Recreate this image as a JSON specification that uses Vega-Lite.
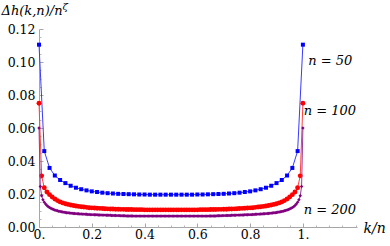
{
  "$schema": "https://vega.github.io/schema/vega-lite/v6.json",
  "width": 318,
  "height": 198,
  "autosize": "none",
  "padding": {"left": 39, "top": 29, "right": 33, "bottom": 19},
  "background": "white",
  "config": {"view": {"stroke": null}, "axis": {"grid": false, "labelFont": "DejaVu Serif", "titleFont": "DejaVu Serif"}},
  "datasets": {
    "b": [
      {"x":0,"y":0.1105},{"x":0.02,"y":0.046},{"x":0.04,"y":0.0358},{"x":0.06,"y":0.0312},{"x":0.08,"y":0.0285},{"x":0.1,"y":0.0266},{"x":0.12,"y":0.025},{"x":0.14,"y":0.0238},{"x":0.16,"y":0.0229},{"x":0.18,"y":0.0222},{"x":0.2,"y":0.0216},{"x":0.22,"y":0.0212},{"x":0.24,"y":0.0208},{"x":0.26,"y":0.0205},{"x":0.28,"y":0.0203},{"x":0.3,"y":0.0201},{"x":0.32,"y":0.02},{"x":0.34,"y":0.0199},{"x":0.36,"y":0.0198},{"x":0.38,"y":0.0197},{"x":0.4,"y":0.0197},{"x":0.42,"y":0.0196},{"x":0.44,"y":0.0196},{"x":0.46,"y":0.0196},{"x":0.48,"y":0.0196},{"x":0.5,"y":0.0196},{"x":0.52,"y":0.0196},{"x":0.54,"y":0.0196},{"x":0.56,"y":0.0196},{"x":0.58,"y":0.0196},{"x":0.6,"y":0.0197},{"x":0.62,"y":0.0197},{"x":0.64,"y":0.0198},{"x":0.66,"y":0.0199},{"x":0.68,"y":0.02},{"x":0.7,"y":0.0201},{"x":0.72,"y":0.0203},{"x":0.74,"y":0.0205},{"x":0.76,"y":0.0208},{"x":0.78,"y":0.0212},{"x":0.8,"y":0.0216},{"x":0.82,"y":0.0222},{"x":0.84,"y":0.0229},{"x":0.86,"y":0.0238},{"x":0.88,"y":0.025},{"x":0.9,"y":0.0266},{"x":0.92,"y":0.0285},{"x":0.94,"y":0.0312},{"x":0.96,"y":0.0358},{"x":0.98,"y":0.046},{"x":1,"y":0.1105}
    ],
    "r": [
      {"x":0,"y":0.075},{"x":0.01,"y":0.031},{"x":0.02,"y":0.0238},{"x":0.03,"y":0.0212},{"x":0.04,"y":0.0196},{"x":0.05,"y":0.0182},{"x":0.06,"y":0.017},{"x":0.07,"y":0.016},{"x":0.08,"y":0.0152},{"x":0.09,"y":0.0146},{"x":0.1,"y":0.0141},{"x":0.11,"y":0.0137},{"x":0.12,"y":0.0133},{"x":0.13,"y":0.013},{"x":0.14,"y":0.0127},{"x":0.15,"y":0.0125},{"x":0.16,"y":0.0123},{"x":0.17,"y":0.0121},{"x":0.18,"y":0.0119},{"x":0.19,"y":0.0117},{"x":0.2,"y":0.0116},{"x":0.21,"y":0.0115},{"x":0.22,"y":0.0114},{"x":0.23,"y":0.0113},{"x":0.24,"y":0.0112},{"x":0.25,"y":0.0111},{"x":0.26,"y":0.011},{"x":0.27,"y":0.0109},{"x":0.28,"y":0.0109},{"x":0.29,"y":0.0108},{"x":0.3,"y":0.0108},{"x":0.31,"y":0.0107},{"x":0.32,"y":0.0107},{"x":0.33,"y":0.0106},{"x":0.34,"y":0.0106},{"x":0.35,"y":0.0106},{"x":0.36,"y":0.0105},{"x":0.37,"y":0.0105},{"x":0.38,"y":0.0105},{"x":0.39,"y":0.0105},{"x":0.4,"y":0.0104},{"x":0.41,"y":0.0104},{"x":0.42,"y":0.0104},{"x":0.43,"y":0.0104},{"x":0.44,"y":0.0104},{"x":0.45,"y":0.0104},{"x":0.46,"y":0.0104},{"x":0.47,"y":0.0104},{"x":0.48,"y":0.0104},{"x":0.49,"y":0.0104},{"x":0.5,"y":0.0104},{"x":0.51,"y":0.0104},{"x":0.52,"y":0.0104},{"x":0.53,"y":0.0104},{"x":0.54,"y":0.0104},{"x":0.55,"y":0.0104},{"x":0.56,"y":0.0104},{"x":0.57,"y":0.0104},{"x":0.58,"y":0.0104},{"x":0.59,"y":0.0104},{"x":0.6,"y":0.0104},{"x":0.61,"y":0.0105},{"x":0.62,"y":0.0105},{"x":0.63,"y":0.0105},{"x":0.64,"y":0.0105},{"x":0.65,"y":0.0106},{"x":0.66,"y":0.0106},{"x":0.67,"y":0.0106},{"x":0.68,"y":0.0107},{"x":0.69,"y":0.0107},{"x":0.7,"y":0.0108},{"x":0.71,"y":0.0108},{"x":0.72,"y":0.0109},{"x":0.73,"y":0.0109},{"x":0.74,"y":0.011},{"x":0.75,"y":0.0111},{"x":0.76,"y":0.0112},{"x":0.77,"y":0.0113},{"x":0.78,"y":0.0114},{"x":0.79,"y":0.0115},{"x":0.8,"y":0.0116},{"x":0.81,"y":0.0117},{"x":0.82,"y":0.0119},{"x":0.83,"y":0.0121},{"x":0.84,"y":0.0123},{"x":0.85,"y":0.0125},{"x":0.86,"y":0.0127},{"x":0.87,"y":0.013},{"x":0.88,"y":0.0133},{"x":0.89,"y":0.0137},{"x":0.9,"y":0.0141},{"x":0.91,"y":0.0146},{"x":0.92,"y":0.0152},{"x":0.93,"y":0.016},{"x":0.94,"y":0.017},{"x":0.95,"y":0.0182},{"x":0.96,"y":0.0196},{"x":0.97,"y":0.0212},{"x":0.98,"y":0.0238},{"x":0.99,"y":0.031},{"x":1,"y":0.075}
    ],
    "p": [
      {"x":0,"y":0.06},{"x":0.005,"y":0.0245},{"x":0.01,"y":0.019},{"x":0.015,"y":0.0165},{"x":0.02,"y":0.015},{"x":0.025,"y":0.0139},{"x":0.03,"y":0.013},{"x":0.035,"y":0.0123},{"x":0.04,"y":0.0118},{"x":0.045,"y":0.0113},{"x":0.05,"y":0.0109},{"x":0.055,"y":0.0106},{"x":0.06,"y":0.0103},{"x":0.065,"y":0.01},{"x":0.07,"y":0.0098},{"x":0.075,"y":0.0096},{"x":0.08,"y":0.0094},{"x":0.085,"y":0.0092},{"x":0.09,"y":0.0091},{"x":0.095,"y":0.0089},{"x":0.1,"y":0.0088},{"x":0.105,"y":0.0087},{"x":0.11,"y":0.0086},{"x":0.115,"y":0.0085},{"x":0.12,"y":0.0084},{"x":0.125,"y":0.0083},{"x":0.13,"y":0.0082},{"x":0.135,"y":0.0082},{"x":0.14,"y":0.0081},{"x":0.145,"y":0.008},{"x":0.15,"y":0.008},{"x":0.155,"y":0.0079},{"x":0.16,"y":0.0079},{"x":0.165,"y":0.0078},{"x":0.17,"y":0.0078},{"x":0.175,"y":0.0077},{"x":0.18,"y":0.0077},{"x":0.185,"y":0.0076},{"x":0.19,"y":0.0076},{"x":0.195,"y":0.0075},{"x":0.2,"y":0.0075},{"x":0.205,"y":0.0075},{"x":0.21,"y":0.0074},{"x":0.215,"y":0.0074},{"x":0.22,"y":0.0074},{"x":0.225,"y":0.0073},{"x":0.23,"y":0.0073},{"x":0.235,"y":0.0073},{"x":0.24,"y":0.0072},{"x":0.245,"y":0.0072},{"x":0.25,"y":0.0072},{"x":0.255,"y":0.0071},{"x":0.26,"y":0.0071},{"x":0.265,"y":0.0071},{"x":0.27,"y":0.0071},{"x":0.275,"y":0.007},{"x":0.28,"y":0.007},{"x":0.285,"y":0.007},{"x":0.29,"y":0.007},{"x":0.295,"y":0.0069},{"x":0.3,"y":0.0069},{"x":0.305,"y":0.0069},{"x":0.31,"y":0.0068},{"x":0.315,"y":0.0068},{"x":0.32,"y":0.0068},{"x":0.325,"y":0.0068},{"x":0.33,"y":0.0067},{"x":0.335,"y":0.0067},{"x":0.34,"y":0.0067},{"x":0.345,"y":0.0067},{"x":0.35,"y":0.0067},{"x":0.355,"y":0.0067},{"x":0.36,"y":0.0066},{"x":0.365,"y":0.0066},{"x":0.37,"y":0.0066},{"x":0.375,"y":0.0066},{"x":0.38,"y":0.0066},{"x":0.385,"y":0.0066},{"x":0.39,"y":0.0066},{"x":0.395,"y":0.0066},{"x":0.4,"y":0.0066},{"x":0.405,"y":0.0066},{"x":0.41,"y":0.0066},{"x":0.415,"y":0.0066},{"x":0.42,"y":0.0066},{"x":0.425,"y":0.0066},{"x":0.43,"y":0.0066},{"x":0.435,"y":0.0066},{"x":0.44,"y":0.0066},{"x":0.445,"y":0.0066},{"x":0.45,"y":0.0066},{"x":0.455,"y":0.0066},{"x":0.46,"y":0.0066},{"x":0.465,"y":0.0066},{"x":0.47,"y":0.0066},{"x":0.475,"y":0.0066},{"x":0.48,"y":0.0066},{"x":0.485,"y":0.0066},{"x":0.49,"y":0.0066},{"x":0.495,"y":0.0066},{"x":0.5,"y":0.0066},{"x":0.505,"y":0.0066},{"x":0.51,"y":0.0066},{"x":0.515,"y":0.0066},{"x":0.52,"y":0.0066},{"x":0.525,"y":0.0066},{"x":0.53,"y":0.0066},{"x":0.535,"y":0.0066},{"x":0.54,"y":0.0066},{"x":0.545,"y":0.0066},{"x":0.55,"y":0.0066},{"x":0.555,"y":0.0066},{"x":0.56,"y":0.0066},{"x":0.565,"y":0.0066},{"x":0.57,"y":0.0066},{"x":0.575,"y":0.0066},{"x":0.58,"y":0.0066},{"x":0.585,"y":0.0066},{"x":0.59,"y":0.0066},{"x":0.595,"y":0.0066},{"x":0.6,"y":0.0066},{"x":0.605,"y":0.0066},{"x":0.61,"y":0.0066},{"x":0.615,"y":0.0066},{"x":0.62,"y":0.0066},{"x":0.625,"y":0.0066},{"x":0.63,"y":0.0066},{"x":0.635,"y":0.0066},{"x":0.64,"y":0.0066},{"x":0.645,"y":0.0067},{"x":0.65,"y":0.0067},{"x":0.655,"y":0.0067},{"x":0.66,"y":0.0067},{"x":0.665,"y":0.0067},{"x":0.67,"y":0.0067},{"x":0.675,"y":0.0068},{"x":0.68,"y":0.0068},{"x":0.685,"y":0.0068},{"x":0.69,"y":0.0068},{"x":0.695,"y":0.0069},{"x":0.7,"y":0.0069},{"x":0.705,"y":0.0069},{"x":0.71,"y":0.007},{"x":0.715,"y":0.007},{"x":0.72,"y":0.007},{"x":0.725,"y":0.007},{"x":0.73,"y":0.0071},{"x":0.735,"y":0.0071},{"x":0.74,"y":0.0071},{"x":0.745,"y":0.0071},{"x":0.75,"y":0.0072},{"x":0.755,"y":0.0072},{"x":0.76,"y":0.0072},{"x":0.765,"y":0.0073},{"x":0.77,"y":0.0073},{"x":0.775,"y":0.0073},{"x":0.78,"y":0.0074},{"x":0.785,"y":0.0074},{"x":0.79,"y":0.0074},{"x":0.795,"y":0.0075},{"x":0.8,"y":0.0075},{"x":0.805,"y":0.0075},{"x":0.81,"y":0.0076},{"x":0.815,"y":0.0076},{"x":0.82,"y":0.0077},{"x":0.825,"y":0.0077},{"x":0.83,"y":0.0078},{"x":0.835,"y":0.0078},{"x":0.84,"y":0.0079},{"x":0.845,"y":0.0079},{"x":0.85,"y":0.008},{"x":0.855,"y":0.008},{"x":0.86,"y":0.0081},{"x":0.865,"y":0.0082},{"x":0.87,"y":0.0082},{"x":0.875,"y":0.0083},{"x":0.88,"y":0.0084},{"x":0.885,"y":0.0085},{"x":0.89,"y":0.0086},{"x":0.895,"y":0.0087},{"x":0.9,"y":0.0088},{"x":0.905,"y":0.0089},{"x":0.91,"y":0.0091},{"x":0.915,"y":0.0092},{"x":0.92,"y":0.0094},{"x":0.925,"y":0.0096},{"x":0.93,"y":0.0098},{"x":0.935,"y":0.01},{"x":0.94,"y":0.0103},{"x":0.945,"y":0.0106},{"x":0.95,"y":0.0109},{"x":0.955,"y":0.0113},{"x":0.96,"y":0.0118},{"x":0.965,"y":0.0123},{"x":0.97,"y":0.013},{"x":0.975,"y":0.0139},{"x":0.98,"y":0.015},{"x":0.985,"y":0.0165},{"x":0.99,"y":0.019},{"x":0.995,"y":0.0245},{"x":1,"y":0.06}
    ],
    "labels": [
      {"x":1.104,"y":0.1006,"label":"n = 50"},
      {"x":1.102,"y":0.0706,"label":"n = 100"},
      {"x":1.102,"y":0.0103,"label":"n = 200"}
    ]
  },
  "resolve": {"axis": {"x": "independent", "y": "independent"}},
  "layer": [
    {
      "data": {"name": "b"},
      "mark": {"type": "line", "color": "#3a3aff", "strokeWidth": 1},
      "encoding": {
        "x": {"field": "x", "type": "quantitative", "scale": {"domain": [0, 1.205], "nice": false, "zero": false},
          "axis": {"orient": "bottom", "values": [0, 0.2, 0.4, 0.6, 0.8, 1], "labelExpr": "datum.value == 0 ? '0.' : datum.value == 1 ? '1.' : format(datum.value, '.1f')", "labelFlush": false, "labelOverlap": false, "labelFontSize": 12.5, "labelColor": "#000000", "domainColor": "#a6a6a6", "tickColor": "#a6a6a6", "tickSize": -4, "labelPadding": 5, "title": "k/n", "titleX": 324, "titleY": 1, "titleAlign": "left", "titleBaseline": "middle", "titleFontSize": 14, "titleFontStyle": "italic", "titleFontWeight": "normal", "titleColor": "#000000"}},
        "y": {"field": "y", "type": "quantitative", "scale": {"domain": [0, 0.12], "nice": false, "zero": false},
          "axis": {"orient": "left", "values": [0, 0.02, 0.04, 0.06, 0.08, 0.1, 0.12], "format": ".2f", "labelOverlap": false, "labelFontSize": 12.5, "labelColor": "#000000", "domainColor": "#a6a6a6", "tickColor": "#a6a6a6", "tickSize": -4, "labelPadding": 8, "title": "Δh(k,n)/n", "titleAngle": 0, "titleX": -38, "titleY": -19, "titleAlign": "left", "titleBaseline": "middle", "titleFontSize": 13, "titleFontStyle": "italic", "titleFontWeight": "normal", "titleColor": "#000000"}}
      }
    },
    {
      "data": {"name": "b"},
      "mark": {"type": "point", "opacity": 0},
      "encoding": {
        "x": {"field": "x", "type": "quantitative", "scale": {"domain": [0, 1.205], "nice": false, "zero": false},
          "axis": {"orient": "bottom", "values": [0.05, 0.1, 0.15, 0.25, 0.3, 0.35, 0.45, 0.5, 0.55, 0.65, 0.7, 0.75, 0.85, 0.9, 0.95, 1.05, 1.1, 1.15, 1.2], "labels": false, "domain": false, "tickColor": "#b5b5b5", "tickSize": -2, "title": null}},
        "y": {"field": "y", "type": "quantitative", "scale": {"domain": [0, 0.12], "nice": false, "zero": false},
          "axis": {"orient": "left", "values": [0.005, 0.01, 0.015, 0.025, 0.03, 0.035, 0.045, 0.05, 0.055, 0.065, 0.07, 0.075, 0.085, 0.09, 0.095, 0.105, 0.11, 0.115], "labels": false, "domain": false, "tickColor": "#b5b5b5", "tickSize": -2, "title": "ζ", "titleAngle": 0, "titleX": 23, "titleY": -23, "titleAlign": "left", "titleBaseline": "middle", "titleFontSize": 10, "titleFontStyle": "italic", "titleFontWeight": "normal", "titleColor": "#000000"}}
      }
    },
    {
      "data": {"name": "b"},
      "mark": {"type": "point", "shape": "square", "filled": true, "size": 16, "color": "#0000ff", "opacity": 1},
      "encoding": {
        "x": {"field": "x", "type": "quantitative", "scale": {"domain": [0, 1.205], "nice": false, "zero": false}, "axis": null},
        "y": {"field": "y", "type": "quantitative", "scale": {"domain": [0, 0.12], "nice": false, "zero": false}, "axis": null}
      }
    },
    {
      "data": {"name": "r"},
      "mark": {"type": "line", "color": "#ff4040", "strokeWidth": 1},
      "encoding": {
        "x": {"field": "x", "type": "quantitative", "scale": {"domain": [0, 1.205], "nice": false, "zero": false}, "axis": null},
        "y": {"field": "y", "type": "quantitative", "scale": {"domain": [0, 0.12], "nice": false, "zero": false}, "axis": null}
      }
    },
    {
      "data": {"name": "r"},
      "mark": {"type": "point", "shape": "circle", "filled": true, "size": 24, "color": "#ff0000", "opacity": 1},
      "encoding": {
        "x": {"field": "x", "type": "quantitative", "scale": {"domain": [0, 1.205], "nice": false, "zero": false}, "axis": null},
        "y": {"field": "y", "type": "quantitative", "scale": {"domain": [0, 0.12], "nice": false, "zero": false}, "axis": null}
      }
    },
    {
      "data": {"name": "p"},
      "mark": {"type": "line", "color": "#9a3a9a", "strokeWidth": 1},
      "encoding": {
        "x": {"field": "x", "type": "quantitative", "scale": {"domain": [0, 1.205], "nice": false, "zero": false}, "axis": null},
        "y": {"field": "y", "type": "quantitative", "scale": {"domain": [0, 0.12], "nice": false, "zero": false}, "axis": null}
      }
    },
    {
      "data": {"name": "p"},
      "mark": {"type": "point", "shape": "diamond", "filled": true, "size": 12, "color": "#800080", "opacity": 1},
      "encoding": {
        "x": {"field": "x", "type": "quantitative", "scale": {"domain": [0, 1.205], "nice": false, "zero": false}, "axis": null},
        "y": {"field": "y", "type": "quantitative", "scale": {"domain": [0, 0.12], "nice": false, "zero": false}, "axis": null}
      }
    },
    {
      "data": {"name": "labels"},
      "mark": {"type": "text", "font": "DejaVu Serif", "fontSize": 13, "fontStyle": "italic", "align": "center", "baseline": "middle", "color": "#000000"},
      "encoding": {
        "x": {"field": "x", "type": "quantitative", "scale": {"domain": [0, 1.205], "nice": false, "zero": false}, "axis": null},
        "y": {"field": "y", "type": "quantitative", "scale": {"domain": [0, 0.12], "nice": false, "zero": false}, "axis": null},
        "text": {"field": "label"}
      }
    }
  ]
}
